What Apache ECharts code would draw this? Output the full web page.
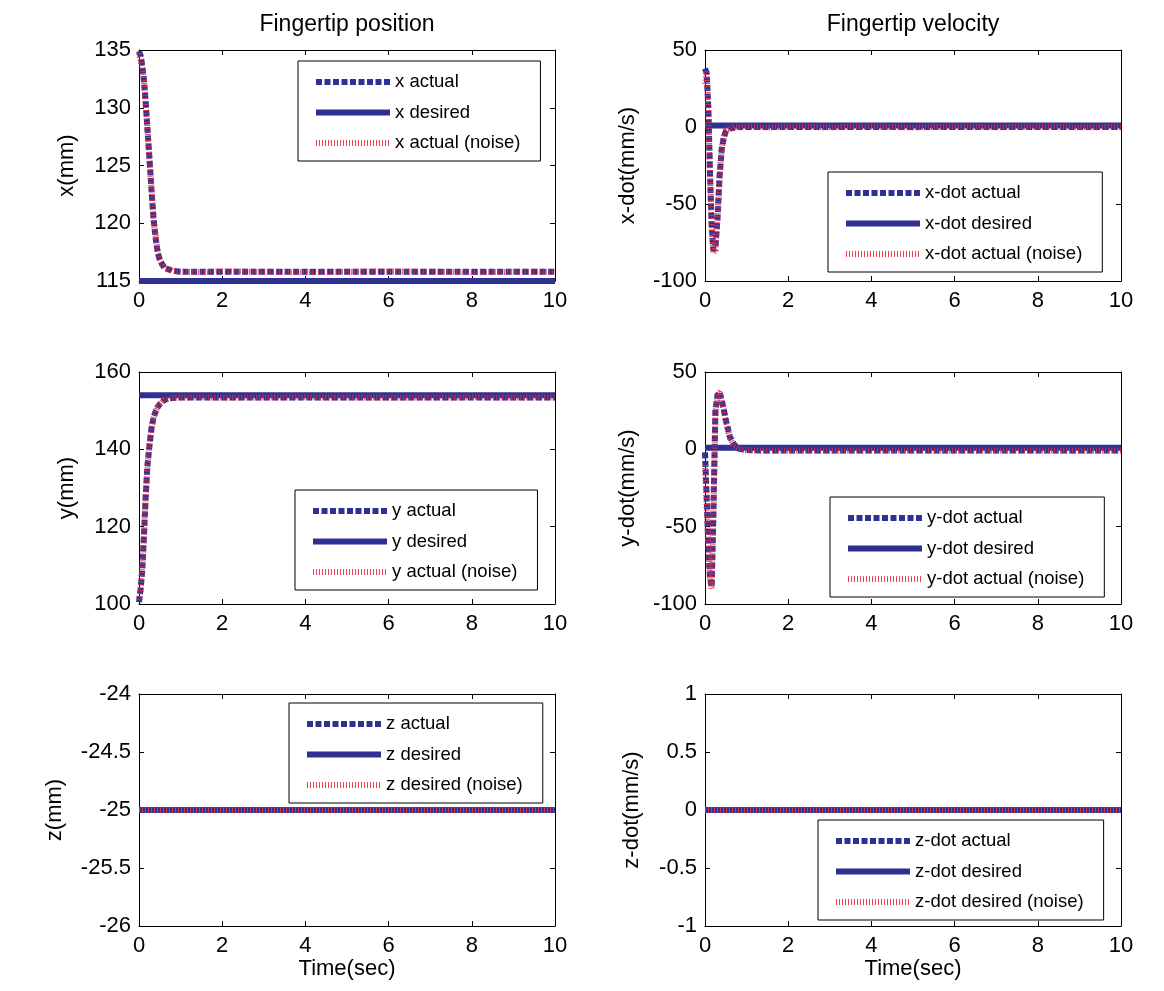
<!DOCTYPE html>
<html>
<head>
<meta charset="utf-8">
<script src="https://cdn.jsdelivr.net/npm/echarts@6/dist/echarts.min.js"></script>
<style>
  html, body { margin: 0; background: #fff; }
  #main { width: 1164px; height: 991px; }
</style>
</head>
<body>
<div id="main"></div>
<script>
// time samples (sec), denser during the transient
const time = [0, 0.04, 0.08, 0.12, 0.16, 0.2, 0.25, 0.3, 0.35, 0.4, 0.45, 0.5, 0.6, 0.7, 0.8, 1, 1.5, 2, 3, 4, 5, 6, 7, 8, 9, 10]
// flat (desired) lines only need the two ends
const endTime = [0, 10]
const xTicks = [0, 2, 4, 6, 8, 10]

// fingertip position x (mm)
const xActual = [134.9, 134.5, 133.6, 132.3, 130.5, 128.3, 125.7, 122.9, 120.4, 118.7, 117.5, 116.8, 116.2, 116.0, 115.9, 115.8, 115.8, 115.8, 115.8, 115.8, 115.8, 115.8, 115.8, 115.8, 115.8, 115.8]
const xNoise = [134.7, 134.6, 133.4, 132.5, 130.3, 128.5, 125.5, 123.1, 120.2, 118.9, 117.4, 116.9, 116.1, 116.1, 115.85, 115.8, 115.75, 115.85, 115.8, 115.75, 115.8, 115.85, 115.8, 115.75, 115.8, 115.8]
const xDesired = [115, 115]

// fingertip velocity x-dot (mm/s)
const xDotActual = [38, 35, 13, -30, -64, -80, -78, -60, -32, -15, -7, -3, -1, -0.5, 0, 0, 0, 0, 0, 0, 0, 0, 0, 0, 0, 0]
const xDotNoise = [28, 36, 10, -33, -66, -82, -80, -58, -34, -14, -6, -2, -1.5, 0.3, -0.4, 0.3, -0.3, 0.2, -0.2, 0.3, -0.3, 0.2, -0.2, 0.3, -0.2, 0]
const xDotDesired = [1, 1]

// fingertip position y (mm)
const yActual = [100.5, 104, 109, 118, 127.5, 135.5, 140.8, 145.5, 148.2, 149.8, 150.9, 151.7, 152.7, 153.1, 153.3, 153.4, 153.4, 153.4, 153.4, 153.4, 153.4, 153.4, 153.4, 153.4, 153.4, 153.4]
const yNoise = [101, 103.5, 110, 117.5, 128, 135, 141.2, 145.3, 148.4, 149.6, 151.1, 151.6, 152.8, 153, 153.35, 153.4, 153.45, 153.35, 153.4, 153.45, 153.4, 153.35, 153.4, 153.45, 153.4, 153.4]
const yDesired = [154, 154]

// fingertip velocity y-dot (mm/s)
const yDotActual = [-2, -30, -63, -82, -89, -45, 25, 35, 37, 32, 26, 19, 8, 3, 0.5, -0.5, -0.8, -0.8, -0.8, -0.8, -0.8, -0.8, -0.8, -0.8, -0.8, -0.8]
const yDotNoise = [-10, -38, -60, -85, -90, -40, 22, 36, 37, 31, 26, 18, 7, 2, 0.2, -0.6, -0.9, -0.7, -0.9, -0.7, -0.8, -0.9, -0.7, -0.8, -0.9, -0.8]
const yDotDesired = [1, 1]

// z and z-dot stay constant
const zActual = [-25, -25]
const zNoise = [-25, -25]
const zDesired = [-25, -25]
const zDotActual = [0, 0]
const zDotNoise = [0, 0]
const zDotDesired = [0, 0]

const BLUE = '#2e3192'
const RED = '#ee2d3c'
const FONT = '"Liberation Sans", Arial, Helvetica, sans-serif'

// one entry per subplot
const panels = [
  { left: 139, top: 50, h: 231, min: 115, max: 135, step: 5, yName: 'x(mm)', nameGap: 61, title: 'Fingertip position',
    names: ['x actual', 'x desired', 'x actual (noise)'], tA: time, actual: xActual, noise: xNoise, desired: xDesired, legend: [298, 61] },
  { left: 705, top: 50, h: 231, min: -100, max: 50, step: 50, yName: 'x-dot(mm/s)', nameGap: 66, title: 'Fingertip velocity',
    names: ['x-dot actual', 'x-dot desired', 'x-dot actual (noise)'], tA: time, actual: xDotActual, noise: xDotNoise, desired: xDotDesired, legend: [828, 172] },
  { left: 139, top: 372, h: 232, min: 100, max: 160, step: 20, yName: 'y(mm)', nameGap: 61,
    names: ['y actual', 'y desired', 'y actual (noise)'], tA: time, actual: yActual, noise: yNoise, desired: yDesired, legend: [295, 490] },
  { left: 705, top: 372, h: 232, min: -100, max: 50, step: 50, yName: 'y-dot(mm/s)', nameGap: 66,
    names: ['y-dot actual', 'y-dot desired', 'y-dot actual (noise)'], tA: time, actual: yDotActual, noise: yDotNoise, desired: yDotDesired, legend: [830, 497] },
  { left: 139, top: 694, h: 232, min: -26, max: -24, step: 0.5, yName: 'z(mm)', nameGap: 73, xName: 'Time(sec)',
    names: ['z actual', 'z desired', 'z desired (noise)'], tA: endTime, actual: zActual, noise: zNoise, desired: zDesired, legend: [289, 703] },
  { left: 705, top: 694, h: 232, min: -1, max: 1, step: 0.5, yName: 'z-dot(mm/s)', nameGap: 62, xName: 'Time(sec)',
    names: ['z-dot actual', 'z-dot desired', 'z-dot desired (noise)'], tA: endTime, actual: zDotActual, noise: zDotNoise, desired: zDotDesired, legend: [818, 820] }
]

const pairs = (t, v) => t.map((x, i) => [x, v[i]])

const axisLine = { show: true, onZero: false, lineStyle: { color: '#000', width: 1 } }
const tick = { show: true, inside: true, length: 5, lineStyle: { color: '#000' } }
const label = { color: '#000', fontSize: 22, fontFamily: FONT }
const nameStyle = { color: '#000', fontSize: 22, fontFamily: FONT }

const grid = [], xAxis = [], yAxis = [], legend = [], series = []

panels.forEach((p, i) => {
  grid.push({ left: p.left, top: p.top, width: 416, height: p.h })

  const xBase = { gridIndex: i, type: 'value', min: 0, max: 10, interval: 2, splitLine: { show: false }, axisLine, axisTick: tick }
  xAxis.push(Object.assign({}, xBase, {
    position: 'bottom', axisLabel: Object.assign({ margin: 9 }, label),
    name: p.xName || '', nameLocation: 'middle', nameGap: 27, nameTextStyle: nameStyle
  }))
  xAxis.push(Object.assign({}, xBase, {
    position: 'top', axisLabel: { show: false },
    name: p.title || '', nameLocation: 'middle', nameGap: 14, nameTextStyle: Object.assign({}, nameStyle, { fontSize: 23 })
  }))

  const yBase = { gridIndex: i, type: 'value', min: p.min, max: p.max, interval: p.step, splitLine: { show: false }, axisLine, axisTick: tick }
  yAxis.push(Object.assign({}, yBase, {
    position: 'left', axisLabel: Object.assign({ margin: 8 }, label),
    name: p.yName, nameLocation: 'middle', nameGap: p.nameGap, nameTextStyle: nameStyle
  }))
  yAxis.push(Object.assign({}, yBase, { position: 'right', axisLabel: { show: false } }))

  legend.push({
    data: p.names, orient: 'vertical', left: p.legend[0], top: p.legend[1],
    backgroundColor: '#fff', borderColor: '#000', borderWidth: 1, borderRadius: 0,
    padding: [11, 20, 8, 15], itemGap: 10.5, itemWidth: 74, itemHeight: 20, itemTextGap: 7,
    selectedMode: false, lineStyle: { width: 6 },
    // hide the marker circle, keep only the line sample
    itemStyle: { color: 'transparent', borderWidth: 0, opacity: 0 },
    textStyle: { color: '#000', fontSize: 18.5, fontFamily: FONT, lineHeight: 20 }
  })

  const common = { type: 'line', xAxisIndex: 2 * i, yAxisIndex: 2 * i, symbol: 'none', silent: true }
  series.push(Object.assign({}, common, {
    name: p.names[0], data: pairs(p.tA, p.actual),
    lineStyle: { color: BLUE, width: 6, type: [6, 2.5], cap: 'butt' }, itemStyle: { color: BLUE }
  }))
  series.push(Object.assign({}, common, {
    name: p.names[1], data: pairs(endTime, p.desired),
    lineStyle: { color: BLUE, width: 6, type: 'solid', cap: 'butt' }, itemStyle: { color: BLUE }
  }))
  series.push(Object.assign({}, common, {
    name: p.names[2], data: pairs(p.tA, p.noise),
    lineStyle: { color: RED, width: 6, type: [1, 2], cap: 'butt', opacity: 0.9 }, itemStyle: { color: RED }
  }))
})

const chart = echarts.init(document.getElementById('main'))
chart.setOption({
  animation: false,
  backgroundColor: '#fff',
  grid, xAxis, yAxis, legend, series
})
</script>
</body>
</html>
